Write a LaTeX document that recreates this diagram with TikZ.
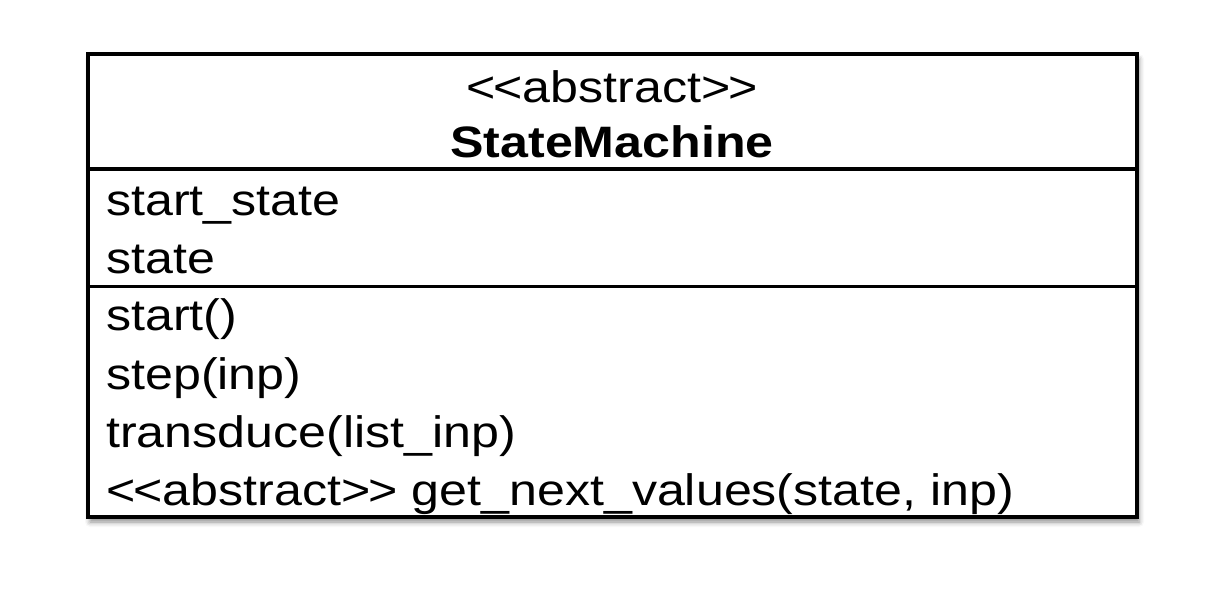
\documentclass[tikz,border=0pt]{standalone}
\usepackage{fontspec}
\setmainfont{Liberation Sans}[FakeStretch=1.14]
\usetikzlibrary{shadows.blur}
\newcommand{\stereo}[1]{{<}\kern-2pt{<}#1{>}\kern-2pt{>}}
\begin{document}
\begin{tikzpicture}[x=1pt,y=-1pt,
  umlbox/.style={draw=black,line width=3.5pt,fill=white,
    blur shadow={shadow xshift=2pt,shadow yshift=-5pt,shadow blur radius=5pt,shadow opacity=45}},
  divider/.style={draw=black,line width=3.5pt},
  member/.style={anchor=base west,inner sep=0pt,font=\fontsize{44}{50}\selectfont},
  header/.style={anchor=base,inner sep=0pt,font=\fontsize{44}{50}\selectfont}]
  \useasboundingbox (0,0) rectangle (1211,598);
  % class outline
  \node[umlbox,minimum width=1049pt,minimum height=463pt,inner sep=0pt] (cls) at (612.5,285.5) {};
  % compartment separators
  \coordinate (d1l) at (88,169);  \coordinate (d1r) at (1137,169);
  \coordinate (d2l) at (88,286.5);\coordinate (d2r) at (1137,286.5);
  \draw[divider] (d1l) -- (d1r);
  \draw[divider] (d2l) -- (d2r);
  % name compartment
  \node[header] (stereo) at (612,102) {\stereo{abstract}};
  \node[header,font=\fontsize{44}{50}\selectfont\bfseries] (name) at (612,157) {StateMachine};
  % attributes
  \node[member] (a1) at (106,215) {start\_state};
  \node[member] (a2) at (106,273) {state};
  % operations
  \node[member] (o1) at (106,330) {start()};
  \node[member] (o2) at (106,389) {step(inp)};
  \node[member] (o3) at (106,447) {transduce(list\_inp)};
  \node[member] (o4) at (106,505) {\stereo{abstract} get\_next\_values(state, inp)};
\end{tikzpicture}
\end{document}
